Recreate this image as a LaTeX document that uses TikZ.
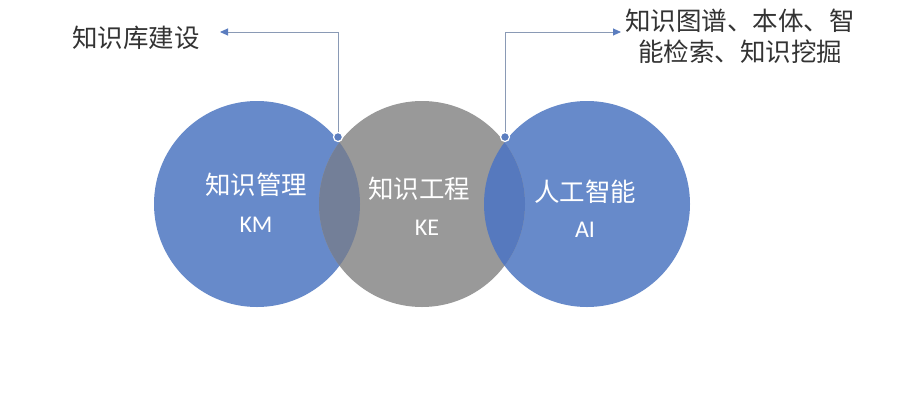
\documentclass[tikz,border=0pt]{standalone}
\usepackage{fontspec}
\setmainfont{Noto Sans CJK SC}
\newfontfamily\latinfont{Carlito}
\usetikzlibrary{arrows.meta}
\definecolor{cblue}{HTML}{678ACA}
\definecolor{cgrey}{HTML}{999999}
\definecolor{lensL}{HTML}{737F98}
\definecolor{lensR}{HTML}{5679BE}
\definecolor{linec}{HTML}{8A9AB5}
\definecolor{tipc}{HTML}{5B7DBF}
\definecolor{txt}{HTML}{333333}
\tikzset{
  venn/.style={circle, minimum size=206pt, inner sep=0pt},
  intxt/.style={text=white, inner sep=0pt, font=\fontsize{25.5}{30}\selectfont},
  abbr/.style={text=white, inner sep=0pt, font=\latinfont\fontsize{24}{28}\selectfont},
  toptxt/.style={text=txt, font=\fontsize{25.5}{31}\selectfont, align=center, inner sep=0pt},
  pin/.style={circle, fill=tipc, draw=white, line width=1.2pt, minimum size=9pt, inner sep=0pt},
  conn/.style={draw=linec, line width=0.9pt, -{Triangle[length=8pt,width=7pt,fill=tipc,color=tipc]}}
}
\begin{document}
\begin{tikzpicture}[x=1pt,y=-1pt]
\useasboundingbox (0,0) rectangle (897,400);
\fill[white] (0,0) rectangle (897,400);
\node[venn, fill=cblue] (km) at (257,204) {};
\node[venn, fill=cblue] (ai) at (587,204) {};
\node[venn, fill=cgrey] (ke) at (422,204) {};
\begin{scope}
  \clip (257,204) circle (103);
  \fill[lensL] (422,204) circle (103);
\end{scope}
\begin{scope}
  \clip (587,204) circle (103);
  \fill[lensR] (422,204) circle (103);
\end{scope}
\node[intxt] (kmt) at (256,185) {知识管理};
\node[abbr] (kma) at (256,225) {KM};
\node[intxt] (ket) at (419,189) {知识工程};
\node[abbr] (kea) at (427,228) {KE};
\node[intxt] (ait) at (585,192) {人工智能};
\node[abbr] (aia) at (585,230) {AI};
\node[toptxt, anchor=west] (lt) at (72,38) {知识库建设};
\node[toptxt] (rt) at (740,36) {知识图谱、本体、智\\能检索、知识挖掘};
\coordinate (lc) at (220,32);
\coordinate (rc) at (621,32);
\node[pin] (pl) at (338,137) {};
\node[pin] (pr) at (505,137) {};
\draw[conn] (pl.north) |- (lc);
\draw[conn] (pr.north) |- (rc);
\end{tikzpicture}
\end{document}
